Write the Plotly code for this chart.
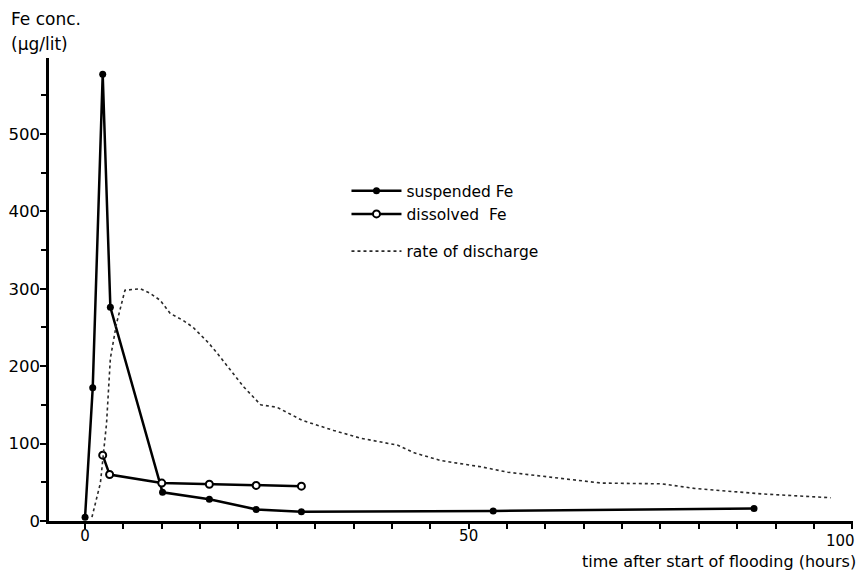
import plotly.graph_objects as go

# suspended Fe (filled dots)
time_susp = [0, 1.0, 2.3, 3.3, 10.1, 16.2, 22.3, 28.2, 53.2, 87.2]
susp_fe = [5, 172, 577, 276, 37, 28, 15, 12, 13, 16]

# dissolved Fe (open circles)
time_diss = [2.3, 3.2, 10.0, 16.2, 22.3, 28.2]
diss_fe = [85, 60, 49, 47.5, 46, 45]

# rate of discharge (dotted, relative scale)
time_q = [0.9, 2.0, 2.8, 3.3, 4.1, 5.2, 7.2, 8.5, 9.8, 11.1, 12.8, 14.1, 16.1,
          17.2, 20.7, 22.9, 25.0, 28.3, 32.4, 35.9, 40.7, 42.9, 46.4, 51.6,
          55.1, 62.1, 67.3, 75.2, 79.5, 88.2, 97.2]
discharge = [5, 49, 126, 210, 255, 298, 300, 294, 285, 268, 259, 250, 230,
             217, 173, 150, 147, 130, 117, 107, 98, 88, 78, 70,
             63, 55, 49, 48, 42, 35, 30]

x_ticks = [0, 50, 100]
x_labels = ["0", "50", ""]   # "100" is drawn right-aligned below, as in the original

FONT = "DejaVu Sans"

fig = go.Figure()
fig.add_trace(go.Scatter(
    x=time_susp, y=susp_fe, name="suspended Fe", mode="lines+markers",
    line=dict(color="black", width=2.5),
    marker=dict(color="black", size=7, symbol="circle"),
    legendgroup="fe"))
fig.add_trace(go.Scatter(
    x=time_diss, y=diss_fe, name="dissolved  Fe", mode="lines+markers",
    line=dict(color="black", width=2.5),
    marker=dict(color="white", size=7, symbol="circle",
                line=dict(color="black", width=2)),
    legendgroup="fe"))
fig.add_trace(go.Scatter(
    x=time_q, y=discharge, name="rate of discharge", mode="lines",
    line=dict(color="#2a2a2a", width=1.6, dash="dot"),
    legendgroup="q"))

# the page body adds an 8px offset, so the figure is 8px smaller than the window
fig.update_layout(
    width=859, height=564,
    margin=dict(l=41, r=14, t=50, b=51),
    plot_bgcolor="white", paper_bgcolor="white",
    font=dict(family=FONT, color="black", size=16),
    legend=dict(x=0.370, y=0.749, xanchor="left", yanchor="top",
                bgcolor="rgba(0,0,0,0)", itemwidth=50,
                tracegroupgap=14, font=dict(size=15.5)),
    annotations=[
        dict(text="Fe conc.", xref="paper", yref="paper",
             x=-0.050, y=1.084, xanchor="left", yanchor="middle",
             showarrow=False, font=dict(size=17)),
        dict(text="(µg/lit)", xref="paper", yref="paper",
             x=-0.050, y=1.030, xanchor="left", yanchor="middle",
             showarrow=False, font=dict(size=17)),
        dict(text="100", xref="x", yref="paper", x=x_ticks[-1],
             y=-0.044, xanchor="right", yanchor="middle", xshift=5,
             showarrow=False, font=dict(size=15)),
        dict(text="time after start of flooding (hours)", xref="paper",
             yref="paper", x=1.006, y=-0.087, xanchor="right",
             yanchor="middle", showarrow=False, font=dict(size=16)),
    ],
)
fig.update_xaxes(
    range=[-4.7, 100.1], showgrid=False, zeroline=False, automargin=False,
    showline=True, linecolor="black", linewidth=2.5,
    tickmode="array", tickvals=x_ticks, ticktext=x_labels,
    ticks="outside", ticklen=5,
    tickwidth=2, tickcolor="black", tickfont=dict(size=15),
    ticklabelstandoff=-6,
    minor=dict(dtick=5, tick0=0, ticks="outside", ticklen=5,
               tickwidth=2, tickcolor="black"))
fig.update_yaxes(
    range=[0, 598], showgrid=False, zeroline=False, automargin=False,
    showline=True, linecolor="black", linewidth=2.5,
    tickmode="linear", tick0=0, dtick=100, ticks="outside", ticklen=6,
    tickwidth=2, tickcolor="black", tickfont=dict(size=16.5),
    ticklabelstandoff=-3,
    minor=dict(dtick=50, tick0=0, ticks="outside", ticklen=5,
               tickwidth=2, tickcolor="black"))

fig.write_html("out.html")
